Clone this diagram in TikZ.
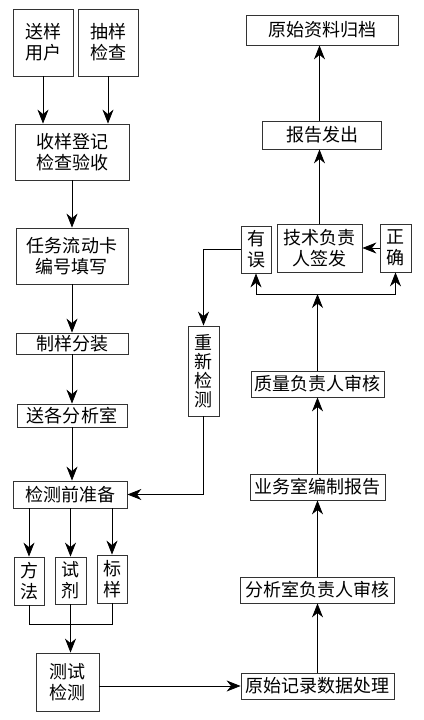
\documentclass[tikz,border=0pt]{standalone}
\usepackage{fontspec}
\newfontfamily\cjk{Noto Sans CJK SC}
\usetikzlibrary{arrows.meta}

\begin{document}
\begin{tikzpicture}[x=1pt, y=-1pt,
		box/.style={draw=black!80, line width=0.8pt, inner sep=0pt, align=center,
			font=\cjk\fontsize{18}{21}\selectfont},
		arr/.style={-{Stealth[length=14pt, width=11pt, inset=4.5pt]}},
		every path/.style={line width=0.8pt}]

				\useasboundingbox (0,0) rectangle (423,720);

				% Columna izquierda
				\node[box, minimum width=60, minimum height=67] (yh) at (43,42.5) {送样\\用户};
				\node[box, minimum width=60, minimum height=67] (cy) at (108,42.5) {抽样\\检查};
				\node[box, minimum width=114, minimum height=56] (sy) at (72,152) {收样登记\\检查验收};
				\node[box, minimum width=112, minimum height=56] (rw) at (72,256) {任务流动卡\\编号填写};
				\node[box, minimum width=112, minimum height=21] (zy) at (72,343.5) {制样分装};
				\node[box, minimum width=110, minimum height=23] (sf) at (72,415.5) {送各分析室};
				\node[box, minimum width=114, minimum height=27] (zb) at (70,494.5) {检测前准备};

				\node[box, minimum width=30, minimum height=48] (ff) at (29,581) {方\\法};
				\node[box, minimum width=31, minimum height=47] (sj) at (70.5,580.5) {试\\剂};
				\node[box, minimum width=30, minimum height=48] (by) at (112,579) {标\\样};
				\node[box, minimum width=63, minimum height=58] (cs) at (67.5,682) {测试\\检测};

				\coordinate (mg) at (70,624);

				\draw[arr] (yh.south) -- (yh.south |- sy.north);
				\draw[arr] (cy.south) -- (cy.south |- sy.north);
				\draw[arr] (sy) -- (rw);
				\draw[arr] (rw) -- (zy);
				\draw[arr] (zy) -- (sf);
				\draw[arr] (sf.south) -- (sf.south |- zb.north);

				\draw[arr] (zb.south -| ff) -- (ff);
				\draw[arr] (zb.south -| sj) -- (sj);
				\draw[arr] (zb.south -| by) -- (by);

				\draw (ff.south) |- (by.south |- mg) -- (by.south);
				\draw[arr] (sj.south) -- (sj.south |- cs.north);

				% Columna derecha
				\node[box, minimum width=153, minimum height=26] (yl) at (317.5,686) {原始记录数据处理};
				\node[box, minimum width=154, minimum height=26] (fx) at (317.5,590) {分析室负责人审核};
				\node[box, minimum width=135, minimum height=26] (yw) at (317.5,487) {业务室编制报告};
				\node[box, minimum width=133, minimum height=26] (zl) at (317.5,384) {质量负责人审核};

				\node[box, minimum width=30, minimum height=47] (ywu) at (256,249.5) {有\\误};
				\node[box, minimum width=85, minimum height=48] (js) at (319.5,248) {技术负责\\人签发};
				\node[box, minimum width=31, minimum height=48] (zq) at (395.5,248) {正\\确};
				\node[box, minimum width=31, minimum height=90,
					font=\cjk\fontsize{18}{19}\selectfont] (cx) at (203.5,371) {重\\新\\检\\测};

				\node[box, minimum width=119, minimum height=28] (bg) at (322,135) {报告发出};
				\node[box, minimum width=152, minimum height=30] (gd) at (322,30) {原始资料归档};

				\coordinate (bar) at (317.5,294);

				\draw[arr] (cs.east |- yl) -- (yl.west);
				\draw[arr] (yl) -- (fx);
				\draw[arr] (fx) -- (yw);
				\draw[arr] (yw) -- (zl);
				\draw[arr] (zl.north) -- (bar);

				\draw (ywu |- bar) -- (zq |- bar);
				\draw[arr] (ywu |- bar) -- (ywu.south);
				\draw[arr] (zq |- bar) -- (zq.south);
				\draw[arr] (zq) -- (js);

				\draw[arr] (ywu.west) -| (cx.north);
				\draw[arr] (cx.south) |- (zb.east);

				\draw[arr] (js.north) -- (js.north |- bg.south);
				\draw[arr] (js.north |- bg.north) -- (js.north |- gd.south);

			\end{tikzpicture}
\end{document}
